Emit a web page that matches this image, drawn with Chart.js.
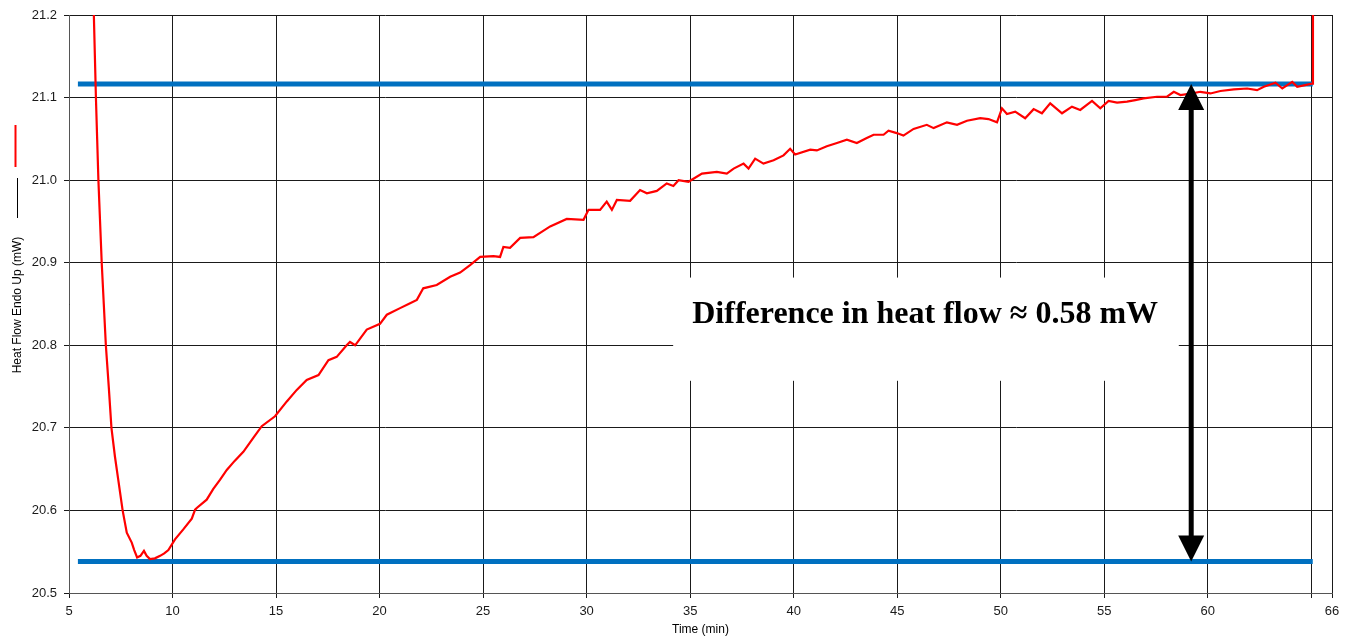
<!DOCTYPE html>
<html>
<head>
<meta charset="utf-8">
<script src="https://cdn.jsdelivr.net/npm/chart.js@4.4.1/dist/chart.umd.min.js"></script>
<style>
  html, body { margin: 0; padding: 0; background: #ffffff; }
  #wrap { width: 1351px; height: 640px; position: relative; }
</style>
</head>
<body>
<div id="wrap"><canvas id="c" width="1351" height="640"></canvas></div>
<script>
// ---- data ----
const timeMin = [6.15, 6.2, 6.25, 6.3, 6.36, 6.42, 6.5, 6.58, 6.68, 6.78, 6.92, 7.05, 7.22, 7.38, 7.59, 7.79, 8.03, 8.15, 8.29, 8.45, 8.62, 8.75, 8.91, 9.15, 9.4, 9.6, 9.8, 10.12, 10.52, 10.93, 11.09, 11.17, 11.65, 11.97, 12.29, 12.62, 13.0, 13.42, 13.9, 14.31, 14.95, 15.52, 16.0, 16.48, 17.05, 17.53, 17.93, 18.41, 18.57, 18.82, 19.38, 20.02, 20.35, 20.99, 21.4, 21.8, 22.11, 22.76, 23.41, 23.89, 24.37, 24.86, 25.5, 25.82, 25.98, 26.3, 26.79, 27.43, 28.24, 29.04, 29.85, 30.09, 30.65, 30.97, 31.22, 31.46, 32.1, 32.58, 32.91, 33.39, 33.87, 34.19, 34.44, 34.92, 35.57, 36.29, 36.77, 37.1, 37.58, 37.82, 38.14, 38.54, 39.03, 39.51, 39.83, 40.07, 40.8, 41.12, 41.6, 42.09, 42.57, 43.05, 43.53, 43.86, 44.34, 44.58, 44.98, 45.3, 45.79, 46.43, 46.76, 47.4, 47.89, 48.37, 49.01, 49.41, 49.82, 50.06, 50.3, 50.7, 51.18, 51.59, 51.99, 52.39, 52.96, 53.44, 53.84, 54.41, 54.81, 55.21, 55.62, 56.1, 56.5, 56.9, 57.55, 58.03, 58.36, 58.68, 59.24, 59.64, 60.13, 60.61, 61.26, 61.9, 62.38, 62.71, 63.27, 63.6, 64.08, 64.32, 64.7, 65.05, 65.08];
const heatFlow = [21.25, 21.2, 21.15, 21.1, 21.05, 21.0, 20.95, 20.9, 20.85, 20.8, 20.75, 20.7, 20.665, 20.637, 20.6, 20.573, 20.561, 20.552, 20.543, 20.545, 20.551, 20.545, 20.541, 20.542, 20.545, 20.548, 20.552, 20.565, 20.577, 20.59, 20.601, 20.603, 20.613, 20.626, 20.637, 20.649, 20.66, 20.671, 20.688, 20.702, 20.714, 20.732, 20.746, 20.758, 20.764, 20.782, 20.786, 20.8, 20.804, 20.8, 20.819, 20.826, 20.837, 20.845, 20.85, 20.855, 20.869, 20.873, 20.883, 20.888, 20.897, 20.907, 20.908, 20.907, 20.919, 20.918, 20.93, 20.931, 20.944, 20.953, 20.952, 20.964, 20.964, 20.974, 20.964, 20.976, 20.975, 20.988, 20.984, 20.987, 20.996, 20.993, 21.0, 20.998, 21.008, 21.01, 21.008, 21.014, 21.02, 21.014, 21.026, 21.02, 21.024, 21.03, 21.038, 21.031, 21.037, 21.036, 21.041, 21.045, 21.049, 21.045, 21.051, 21.055, 21.055, 21.06, 21.057, 21.054, 21.062, 21.067, 21.063, 21.07, 21.067, 21.072, 21.075, 21.074, 21.07, 21.087, 21.08, 21.083, 21.075, 21.086, 21.081, 21.093, 21.081, 21.089, 21.085, 21.096, 21.087, 21.096, 21.094, 21.095, 21.097, 21.099, 21.101, 21.101, 21.107, 21.103, 21.105, 21.107, 21.105, 21.108, 21.11, 21.111, 21.109, 21.113, 21.118, 21.111, 21.119, 21.113, 21.115, 21.117, 21.25];

const upperLevel = 21.1165;      // top reference line (mW)
const lowerLevel = 20.538;       // bottom reference line (mW)
const levelSpan = [5.43, 65.07]; // time extent of the reference lines (min)
const arrowTime = 59.2;          // time where the double arrow sits (min)

const xTicks = [5, 10, 15, 20, 25, 30, 35, 40, 45, 50, 55, 60, 65, 66];
const xHiddenLabels = [65];
const yTicks = [20.5, 20.6, 20.7, 20.8, 20.9, 21.0, 21.1, 21.2];

const noteText = 'Difference in heat flow \u2248 0.58 mW';
const noteBox = { x0: 34.18, x1: 58.6, y0: 20.882, y1: 20.757 }; // in data units
const noteCenter = { x: 46.35, y: 20.837 };

const yTitle = 'Heat Flow Endo Up (mW)';
const xTitle = 'Time (min)';

// ---- build datasets ----
const curve = timeMin.map((t, i) => ({ x: t, y: heatFlow[i] }));
const upperLine = levelSpan.map(t => ({ x: t, y: upperLevel }));
const lowerLine = levelSpan.map(t => ({ x: t, y: lowerLevel }));

const annotationPlugin = {
  id: 'notes',
  beforeDatasetsDraw(chart) {
    const { ctx, scales: { x, y } } = chart;
    const l = x.getPixelForValue(noteBox.x0), r = x.getPixelForValue(noteBox.x1);
    const t = y.getPixelForValue(noteBox.y0), b = y.getPixelForValue(noteBox.y1);
    ctx.save();
    ctx.fillStyle = '#ffffff';
    ctx.fillRect(l, t, r - l, b - t);
    ctx.restore();
  },
  afterDatasetsDraw(chart) {
    const { ctx, scales: { x, y } } = chart;
    ctx.save();
    // note text
    ctx.fillStyle = '#000000';
    ctx.font = 'bold 32px "Liberation Serif", "Times New Roman", serif';
    ctx.textAlign = 'center';
    ctx.textBaseline = 'middle';
    ctx.fillText(noteText, x.getPixelForValue(noteCenter.x), y.getPixelForValue(noteCenter.y));
    // double arrow
    const ax = x.getPixelForValue(arrowTime);
    const yt = y.getPixelForValue(upperLevel);
    const yb = y.getPixelForValue(lowerLevel);
    const hw = 13, hh = 26;
    ctx.strokeStyle = '#000000';
    ctx.lineWidth = 5;
    ctx.beginPath();
    ctx.moveTo(ax, yt + hh - 2);
    ctx.lineTo(ax, yb - hh + 2);
    ctx.stroke();
    ctx.beginPath();
    ctx.moveTo(ax, yt);
    ctx.lineTo(ax - hw, yt + hh);
    ctx.lineTo(ax + hw, yt + hh);
    ctx.closePath();
    ctx.fill();
    ctx.beginPath();
    ctx.moveTo(ax, yb);
    ctx.lineTo(ax - hw, yb - hh);
    ctx.lineTo(ax + hw, yb - hh);
    ctx.closePath();
    ctx.fill();
    ctx.restore();
  },
  afterDraw(chart) {
    const { ctx } = chart;
    ctx.save();
    // y axis title with legend line samples
    ctx.strokeStyle = '#ff0000';
    ctx.lineWidth = 2;
    ctx.beginPath();
    ctx.moveTo(15.5, 125);
    ctx.lineTo(15.5, 167);
    ctx.stroke();
    ctx.strokeStyle = '#000000';
    ctx.lineWidth = 1;
    ctx.beginPath();
    ctx.moveTo(17.5, 178);
    ctx.lineTo(17.5, 218);
    ctx.stroke();
    ctx.translate(18, 305);
    ctx.rotate(-Math.PI / 2);
    ctx.fillStyle = '#000000';
    ctx.font = '12px "Liberation Sans", Arial, sans-serif';
    ctx.textAlign = 'center';
    ctx.textBaseline = 'middle';
    ctx.fillText(yTitle, 0, 0);
    ctx.restore();
  }
};

const gridColor = '#1a1a1a';

new Chart(document.getElementById('c'), {
  type: 'line',
  data: {
    datasets: [
      { data: curve, borderColor: '#ff0000', borderWidth: 2.2, pointRadius: 0, tension: 0, clip: 0 },
      { data: upperLine, borderColor: '#0070c0', borderWidth: 5, pointRadius: 0 },
      { data: lowerLine, borderColor: '#0070c0', borderWidth: 5, pointRadius: 0 }
    ]
  },
  options: {
    responsive: false,
    animation: false,
    events: [],
    layout: { padding: { top: 15, right: 19, left: 0, bottom: 0 } },
    plugins: { legend: { display: false }, tooltip: { enabled: false } },
    scales: {
      x: {
        type: 'linear',
        min: 5,
        max: 66,
        afterBuildTicks(scale) { scale.ticks = xTicks.map(v => ({ value: v })); },
        afterFit(scale) { scale.height = 47; },
        ticks: {
          autoSkip: false,
          maxRotation: 0,
          padding: 6,
          color: '#1a1a1a',
          font: { family: '"Liberation Sans", Arial, sans-serif', size: 13 },
          callback: (v) => (xHiddenLabels.includes(v) ? '' : String(v))
        },
        grid: { color: gridColor, lineWidth: 1, tickLength: 5, drawTicks: true },
        border: { color: '#555555', width: 1 },
        title: {
          display: true,
          text: xTitle,
          color: '#000000',
          font: { family: '"Liberation Sans", Arial, sans-serif', size: 12 },
          padding: { top: 0, bottom: 3 }
        }
      },
      y: {
        type: 'linear',
        min: 20.5,
        max: 21.2,
        afterBuildTicks(scale) { scale.ticks = yTicks.map(v => ({ value: v })); },
        afterFit(scale) { scale.width = 69; },
        ticks: {
          autoSkip: false,
          padding: 7,
          color: '#1a1a1a',
          font: { family: '"Liberation Sans", Arial, sans-serif', size: 13 },
          callback: (v) => Number(v).toFixed(1)
        },
        grid: { color: gridColor, lineWidth: 1, tickLength: 5, drawTicks: true },
        border: { color: '#555555', width: 1 }
      }
    }
  },
  plugins: [annotationPlugin]
});
</script>
</body>
</html>
